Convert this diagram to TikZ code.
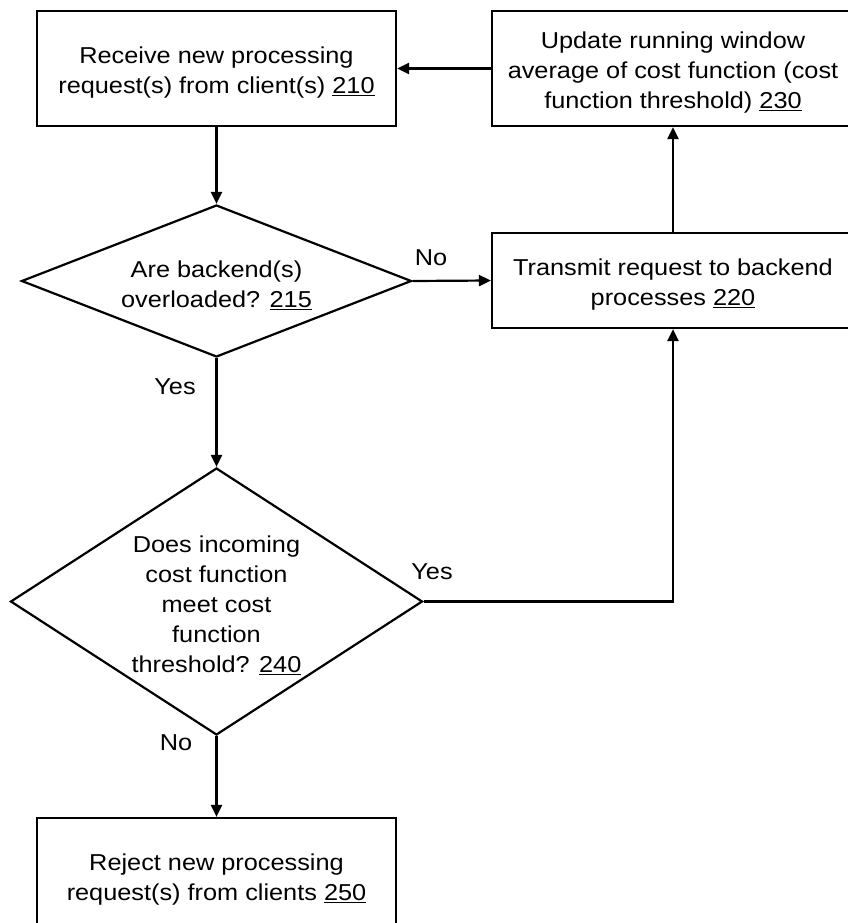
\documentclass[tikz,border=0pt]{standalone}
\usepackage{fontspec}
\setmainfont{Liberation Sans}[FakeStretch=1.1]
\usetikzlibrary{shapes.geometric,arrows.meta}
\newcommand{\topstrut}{\rule{0pt}{25pt}}
\begin{document}
\begin{tikzpicture}[x=1pt,y=-1pt,
  txt/.style={font=\fontsize{23}{30}\selectfont},
  box/.style={txt,draw,line width=2.2pt,inner sep=0pt,align=center},
  dia/.style={txt,draw,diamond,line width=2.2pt,inner sep=0pt,align=center},
  arr/.style={-{Triangle[length=12pt,width=11pt]},line width=2.2pt},
  lbl/.style={txt,inner sep=0pt}]
\useasboundingbox (0,0) rectangle (848,923);
\fill[white] (0,0) rectangle (848,923);
\clip (0,0) rectangle (848,923);
\node[box,minimum width=359pt,minimum height=115pt] (n210) at (216.5,68.5)
  {\topstrut Receive new processing\\request(s) from client(s) \underline{210}};
\node[box,minimum width=362pt,minimum height=115pt] (n230) at (673,68.5)
  {\topstrut Update running window\\average of cost function (cost\\function threshold) \underline{230}};
\node[box,minimum width=362pt,minimum height=95pt] (n220) at (673,280.5)
  {\topstrut Transmit request to backend\\processes \underline{220}};
\node[dia,aspect=2.57,minimum width=390pt,minimum height=152pt] (n215) at (216.5,281)
  {\topstrut Are backend(s)\\overloaded? \underline{215}};
\node[dia,aspect=1.543,minimum width=412pt,minimum height=267pt] (n240) at (216.5,601.5)
  {\topstrut Does incoming\\cost function\\meet cost\\function\\threshold? \underline{240}};
\node[box,minimum width=359pt,minimum height=115pt] (n250) at (216.5,875.5)
  {\topstrut Reject new processing\\request(s) from clients \underline{250}};
\node[lbl] (l1) at (431,258) {No};
\node[lbl] (l2) at (175,387) {Yes};
\node[lbl] (l3) at (432,572) {Yes};
\node[lbl] (l4) at (176,743) {No};
\draw[arr] (n210.south) -- (n215.north);
\draw[arr] (n215.east) -- (n220.west);
\draw[arr] (n220.north) -- (n230.south);
\draw[arr] (n230.west) -- (n210.east);
\draw[arr] (n215.south) -- (n240.north);
\draw[arr] (n240.east) -| (n220.south);
\draw[arr] (n240.south) -- (n250.north);
\end{tikzpicture}
\end{document}
